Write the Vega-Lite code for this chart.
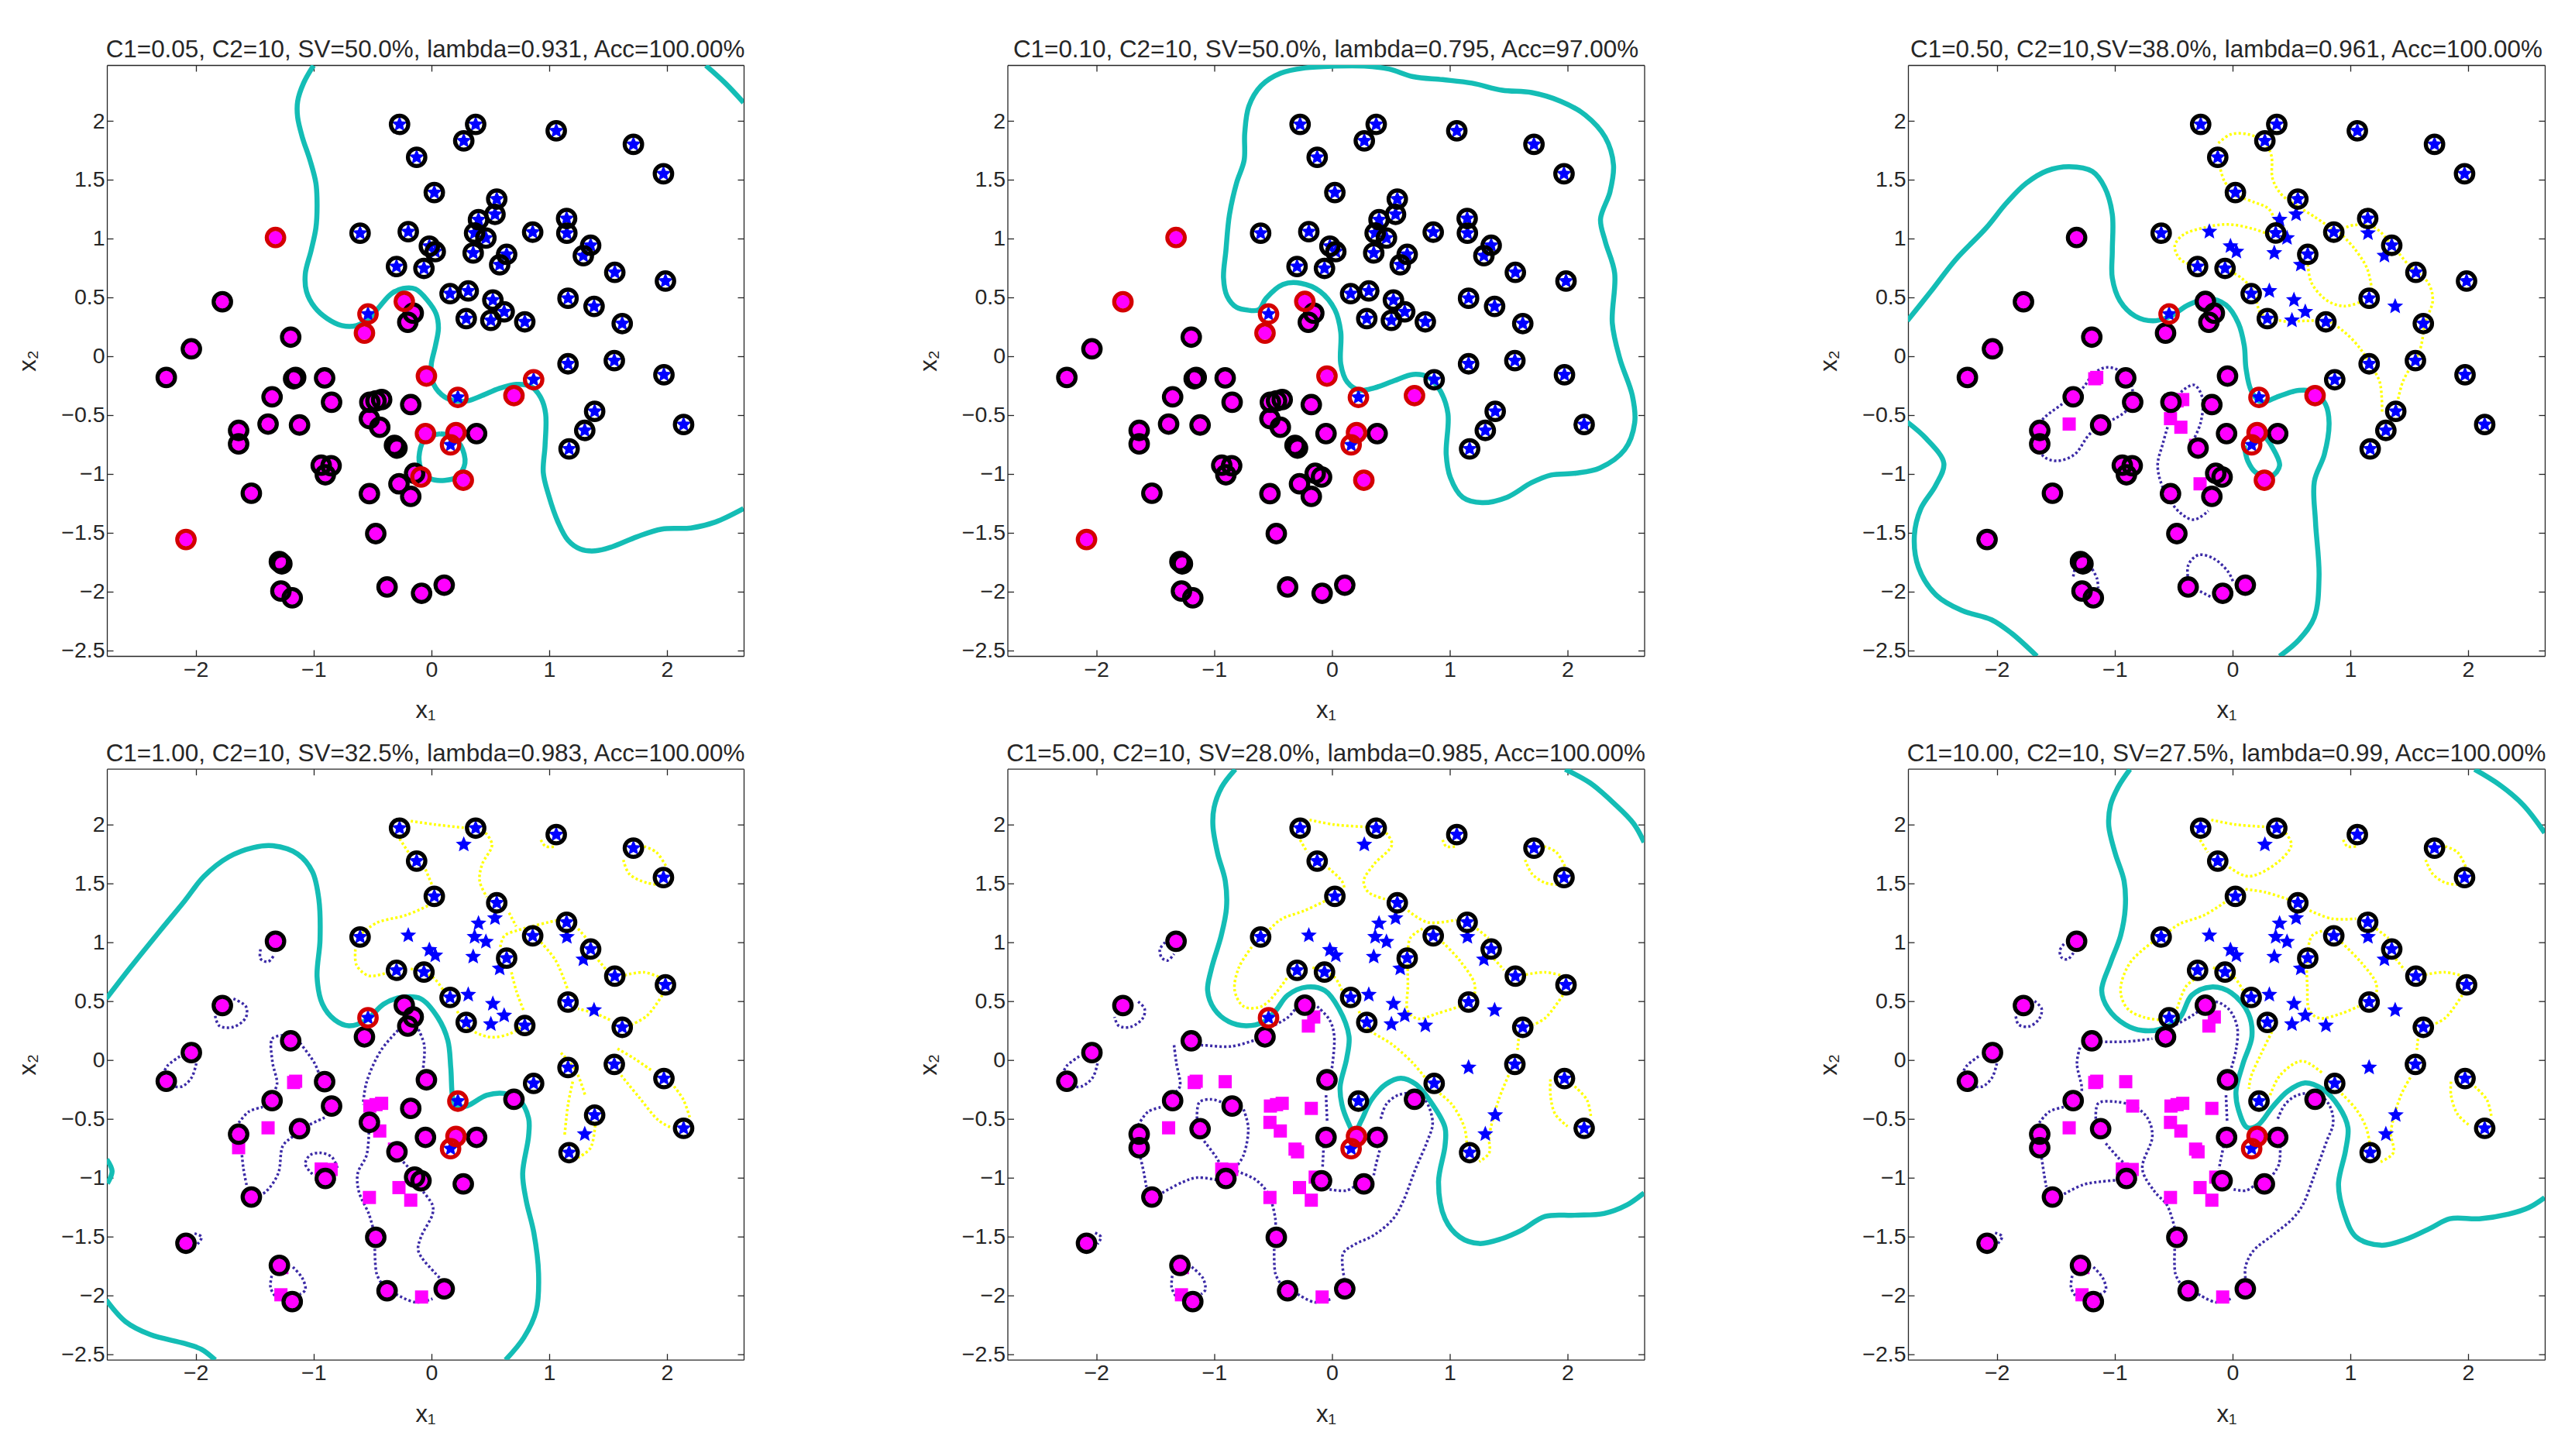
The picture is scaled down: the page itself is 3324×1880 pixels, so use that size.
{"$schema":"https://vega.github.io/schema/vega-lite/v6.json","background":"white","padding":{"left":20,"top":48,"right":0,"bottom":0},"columns":3,"spacing":{"row":145.7,"column":340.5},"bounds":"flush",
"config":{"view":{"stroke":null},"title":{"font":"Liberation Sans","fontSize":31.4,"fontWeight":"normal","color":"#262626","offset":3},"axis":{"grid":false,"domainColor":"#262626","domainWidth":1.3,"tickColor":"#262626","tickWidth":1.3,"tickSize":-8,"labelFont":"Liberation Sans","labelFontSize":28.5,"labelColor":"#262626","labelPadding":11,"titleFont":"Liberation Sans","titleFontSize":31,"titleFontWeight":"normal","titleColor":"#262626","labelFlush":false,"labelOverlap":false,"format":"~g"},"axisX":{"titlePadding":24},"axisY":{"titlePadding":26}},
"datasets":{
"pts":[
{"x":-0.27,"y":1.97,"c":"s","ring":"kkkkkk"},{"x":0.376,"y":1.97,"c":"s","ring":"kkkkkk"},{"x":0.275,"y":1.83,"c":"s","ring":"kkknnn"},{"x":1.06,"y":1.915,"c":"s","ring":"kkkkkk"},{"x":1.715,"y":1.8,"c":"s","ring":"kkkkkk"},{"x":1.97,"y":1.55,"c":"s","ring":"kkkkkk"},{"x":-0.125,"y":1.69,"c":"s","ring":"kkkkkk"},{"x":0.025,"y":1.39,"c":"s","ring":"kkkkkk"},{"x":0.555,"y":1.335,"c":"s","ring":"kkkkkk"},{"x":0.54,"y":1.205,"c":"s","ring":"kknnnn"},
{"x":0.4,"y":1.16,"c":"s","ring":"kknnnn"},{"x":1.148,"y":1.17,"c":"s","ring":"kkkkkk"},{"x":1.15,"y":1.045,"c":"s","ring":"kknnnn"},{"x":-0.605,"y":1.045,"c":"s","ring":"kkkkkk"},{"x":-0.196,"y":1.058,"c":"s","ring":"kknnnn"},{"x":0.367,"y":1.046,"c":"s","ring":"kkknnn"},{"x":0.463,"y":1.004,"c":"s","ring":"kknnnn"},{"x":0.86,"y":1.054,"c":"s","ring":"kkkkkk"},{"x":-0.017,"y":0.935,"c":"s","ring":"kknnnn"},{"x":0.033,"y":0.888,"c":"s","ring":"kknnnn"},
{"x":0.355,"y":0.877,"c":"s","ring":"kknnnn"},{"x":1.352,"y":0.942,"c":"s","ring":"kkkkkk"},{"x":1.29,"y":0.854,"c":"s","ring":"kknnnn"},{"x":0.639,"y":0.865,"c":"s","ring":"kkkkkk"},{"x":0.58,"y":0.777,"c":"s","ring":"kknnnn"},{"x":-0.296,"y":0.762,"c":"s","ring":"kkkkkk"},{"x":-0.063,"y":0.746,"c":"s","ring":"kkkkkk"},{"x":1.557,"y":0.712,"c":"s","ring":"kkkkkk"},{"x":1.987,"y":0.638,"c":"s","ring":"kkkkkk"},{"x":0.159,"y":0.531,"c":"s","ring":"kkkkkk"},
{"x":0.313,"y":0.554,"c":"s","ring":"kknnnn"},{"x":0.522,"y":0.477,"c":"s","ring":"kknnnn"},{"x":1.16,"y":0.492,"c":"s","ring":"kkkkkk"},{"x":1.381,"y":0.423,"c":"s","ring":"kknnnn"},{"x":0.618,"y":0.377,"c":"s","ring":"kknnnn"},{"x":0.505,"y":0.304,"c":"s","ring":"kknnnn"},{"x":0.296,"y":0.319,"c":"s","ring":"kkkkkk"},{"x":0.793,"y":0.292,"c":"s","ring":"kkkknn"},{"x":1.62,"y":0.277,"c":"s","ring":"kkkkkk"},{"x":-0.538,"y":0.358,"c":"s","ring":"rrrrrk"},
{"x":1.16,"y":-0.065,"c":"s","ring":"kkkknn"},{"x":1.553,"y":-0.038,"c":"s","ring":"kkkkkk"},{"x":1.974,"y":-0.158,"c":"s","ring":"kkkkkk"},{"x":0.225,"y":-0.35,"c":"s","ring":"rrrrkk"},{"x":0.868,"y":-0.2,"c":"s","ring":"rkkkkk"},{"x":1.386,"y":-0.469,"c":"s","ring":"kkkknn"},{"x":1.302,"y":-0.631,"c":"s","ring":"kkknnn"},{"x":2.141,"y":-0.581,"c":"s","ring":"kkkkkk"},{"x":1.169,"y":-0.788,"c":"s","ring":"kkkkkk"},{"x":0.163,"y":-0.754,"c":"s","ring":"rrrrrr"},
{"x":-1.323,"y":1.008,"c":"m","ring":"rrkkkk"},{"x":-1.774,"y":0.462,"c":"m","ring":"krkkkk"},{"x":-1.194,"y":0.162,"c":"m","ring":"kkkkkk"},{"x":-0.568,"y":0.196,"c":"m","ring":"rrkkkk"},{"x":-0.23,"y":0.465,"c":"m","ring":"rrkkkk"},{"x":-0.154,"y":0.365,"c":"m","ring":"kkkknn"},{"x":-0.2,"y":0.288,"c":"m","ring":"kkkknn"},{"x":-2.037,"y":0.062,"c":"m","ring":"kkkkkk"},{"x":-2.25,"y":-0.181,"c":"m","ring":"kkkkkk"},{"x":-1.152,"y":-0.181,"c":"m","ring":"kknnnn"},
{"x":-1.169,"y":-0.192,"c":"m","ring":"kknnnn"},{"x":-0.906,"y":-0.185,"c":"m","ring":"kkkknn"},{"x":-1.352,"y":-0.346,"c":"m","ring":"kkkkkk"},{"x":-0.847,"y":-0.392,"c":"m","ring":"kkkkkn"},{"x":-0.522,"y":-0.392,"c":"m","ring":"kkknnn"},{"x":-0.47,"y":-0.38,"c":"m","ring":"kknnnn"},{"x":-0.422,"y":-0.369,"c":"m","ring":"kknnnn"},{"x":-0.175,"y":-0.412,"c":"m","ring":"kkkknn"},{"x":-0.042,"y":-0.169,"c":"m","ring":"rrkkkk"},{"x":0.701,"y":-0.335,"c":"m","ring":"rrrkkk"},
{"x":-0.526,"y":-0.531,"c":"m","ring":"kknknn"},{"x":-0.438,"y":-0.604,"c":"m","ring":"kknnnn"},{"x":-1.636,"y":-0.631,"c":"m","ring":"kkkkkk"},{"x":-1.636,"y":-0.746,"c":"m","ring":"kkknkk"},{"x":-1.386,"y":-0.577,"c":"m","ring":"kknnnn"},{"x":-1.119,"y":-0.585,"c":"m","ring":"kkkkkk"},{"x":-0.05,"y":-0.658,"c":"m","ring":"rkkkkk"},{"x":0.209,"y":-0.65,"c":"m","ring":"rrrrrr"},{"x":0.384,"y":-0.658,"c":"m","ring":"kkkkkk"},{"x":-0.313,"y":-0.758,"c":"m","ring":"kknnnn"},
{"x":-0.292,"y":-0.781,"c":"m","ring":"kkkknn"},{"x":-0.935,"y":-0.927,"c":"m","ring":"kkknnn"},{"x":-0.851,"y":-0.931,"c":"m","ring":"kkknnn"},{"x":-0.9,"y":-1.008,"c":"m","ring":"kkkkkk"},{"x":-0.142,"y":-0.996,"c":"m","ring":"kkkknn"},{"x":-0.088,"y":-1.027,"c":"m","ring":"rkkkkk"},{"x":-0.275,"y":-1.085,"c":"m","ring":"kknnnn"},{"x":-0.175,"y":-1.192,"c":"m","ring":"kkknnn"},{"x":-0.526,"y":-1.169,"c":"m","ring":"kkknnn"},{"x":0.271,"y":-1.054,"c":"m","ring":"rrrkkk"},
{"x":-1.528,"y":-1.165,"c":"m","ring":"kkkkkk"},{"x":-0.472,"y":-1.508,"c":"m","ring":"kkkkkk"},{"x":-2.083,"y":-1.558,"c":"m","ring":"rrkkkk"},{"x":-1.29,"y":-1.746,"c":"m","ring":"kkkkkk"},{"x":-1.269,"y":-1.765,"c":"m","ring":"kkknnn"},{"x":-1.277,"y":-1.996,"c":"m","ring":"kkknnn"},{"x":-1.181,"y":-2.054,"c":"m","ring":"kkkkkk"},{"x":-0.376,"y":-1.962,"c":"m","ring":"kkkkkk"},{"x":-0.083,"y":-2.015,"c":"m","ring":"kkknnn"},{"x":0.109,"y":-1.946,"c":"m","ring":"kkkkkk"}
],
"c1":[
{"k":"t","s":1,"x":-1.0,"y":2.47},{"k":"t","s":1,"x":-1.085,"y":2.32},{"k":"t","s":1,"x":-1.135,"y":2.165},{"k":"t","s":1,"x":-1.135,"y":2.03},{"k":"t","s":1,"x":-1.095,"y":1.86},{"k":"t","s":1,"x":-1.03,"y":1.665},{"k":"t","s":1,"x":-0.98,"y":1.47},{"k":"t","s":1,"x":-0.97,"y":1.28},{"k":"t","s":1,"x":-0.98,"y":1.09},{"k":"t","s":1,"x":-1.02,"y":0.9},{"k":"t","s":1,"x":-1.07,"y":0.7},{"k":"t","s":1,"x":-1.06,"y":0.55},{"k":"t","s":1,"x":-0.99,"y":0.415},{"k":"t","s":1,"x":-0.885,"y":0.32},{"k":"t","s":1,"x":-0.76,"y":0.26},{"k":"t","s":1,"x":-0.635,"y":0.26},{"k":"t","s":1,"x":-0.53,"y":0.32},{"k":"t","s":1,"x":-0.445,"y":0.415},{"k":"t","s":1,"x":-0.34,"y":0.53},{"k":"t","s":1,"x":-0.24,"y":0.575},{"k":"t","s":1,"x":-0.135,"y":0.57},{"k":"t","s":1,"x":-0.03,"y":0.47},{"k":"t","s":1,"x":0.04,"y":0.36},{"k":"t","s":1,"x":0.06,"y":0.24},{"k":"t","s":1,"x":0.035,"y":0.09},{"k":"t","s":1,"x":0,"y":-0.065},{"k":"t","s":1,"x":0,"y":-0.18},{"k":"t","s":1,"x":0.055,"y":-0.295},{"k":"t","s":1,"x":0.16,"y":-0.37},{"k":"t","s":1,"x":0.305,"y":-0.38},{"k":"t","s":1,"x":0.43,"y":-0.335},{"k":"t","s":1,"x":0.575,"y":-0.275},{"k":"t","s":1,"x":0.72,"y":-0.24},{"k":"t","s":1,"x":0.85,"y":-0.26},{"k":"t","s":1,"x":0.93,"y":-0.355},{"k":"t","s":1,"x":0.97,"y":-0.49},{"k":"t","s":1,"x":0.965,"y":-0.76},{"k":"t","s":1,"x":0.95,"y":-0.99},{"k":"t","s":1,"x":0.995,"y":-1.18},{"k":"t","s":1,"x":1.075,"y":-1.41},{"k":"t","s":1,"x":1.16,"y":-1.565},{"k":"t","s":1,"x":1.265,"y":-1.64},{"k":"t","s":1,"x":1.39,"y":-1.655},{"k":"t","s":1,"x":1.535,"y":-1.62},{"k":"t","s":1,"x":1.745,"y":-1.535},{"k":"t","s":1,"x":1.955,"y":-1.47},{"k":"t","s":1,"x":2.205,"y":-1.46},{"k":"t","s":1,"x":2.41,"y":-1.41},{"k":"t","s":1,"x":2.65,"y":-1.295},
{"k":"t","s":2,"x":2.33,"y":2.47},{"k":"t","s":2,"x":2.495,"y":2.32},{"k":"t","s":2,"x":2.65,"y":2.155},
{"k":"t","s":3,"x":0.075,"y":-0.66},{"k":"t","s":3,"x":-0.05,"y":-0.7},{"k":"t","s":3,"x":-0.1,"y":-0.815},{"k":"t","s":3,"x":-0.09,"y":-0.95},{"k":"t","s":3,"x":-0.01,"y":-1.04},{"k":"t","s":3,"x":0.115,"y":-1.055},{"k":"t","s":3,"x":0.22,"y":-1.025},{"k":"t","s":3,"x":0.285,"y":-0.91},{"k":"t","s":3,"x":0.25,"y":-0.76},{"k":"t","s":3,"x":0.16,"y":-0.675},{"k":"t","s":3,"x":0.075,"y":-0.66}
],
"c2":[
{"k":"t","s":1,"x":-0.705,"y":0.39},{"k":"t","s":1,"x":-0.81,"y":0.415},{"k":"t","s":1,"x":-0.89,"y":0.51},{"k":"t","s":1,"x":-0.92,"y":0.665},{"k":"t","s":1,"x":-0.9,"y":0.895},{"k":"t","s":1,"x":-0.87,"y":1.2},{"k":"t","s":1,"x":-0.81,"y":1.47},{"k":"t","s":1,"x":-0.745,"y":1.665},{"k":"t","s":1,"x":-0.74,"y":1.895},{"k":"t","s":1,"x":-0.705,"y":2.125},{"k":"t","s":1,"x":-0.6,"y":2.3},{"k":"t","s":1,"x":-0.435,"y":2.405},{"k":"t","s":1,"x":-0.225,"y":2.45},{"k":"t","s":1,"x":0.025,"y":2.465},{"k":"t","s":1,"x":0.275,"y":2.465},{"k":"t","s":1,"x":0.485,"y":2.44},{"k":"t","s":1,"x":0.69,"y":2.375},{"k":"t","s":1,"x":0.94,"y":2.35},{"k":"t","s":1,"x":1.19,"y":2.32},{"k":"t","s":1,"x":1.445,"y":2.26},{"k":"t","s":1,"x":1.695,"y":2.24},{"k":"t","s":1,"x":1.945,"y":2.165},{"k":"t","s":1,"x":2.15,"y":2.05},{"k":"t","s":1,"x":2.32,"y":1.86},{"k":"t","s":1,"x":2.39,"y":1.625},{"k":"t","s":1,"x":2.36,"y":1.395},{"k":"t","s":1,"x":2.28,"y":1.165},{"k":"t","s":1,"x":2.32,"y":0.975},{"k":"t","s":1,"x":2.4,"y":0.705},{"k":"t","s":1,"x":2.38,"y":0.28},{"k":"t","s":1,"x":2.445,"y":-0.025},{"k":"t","s":1,"x":2.55,"y":-0.335},{"k":"t","s":1,"x":2.57,"y":-0.565},{"k":"t","s":1,"x":2.485,"y":-0.795},{"k":"t","s":1,"x":2.275,"y":-0.95},{"k":"t","s":1,"x":2.07,"y":-0.995},{"k":"t","s":1,"x":1.86,"y":-1.01},{"k":"t","s":1,"x":1.695,"y":-1.075},{"k":"t","s":1,"x":1.485,"y":-1.2},{"k":"t","s":1,"x":1.275,"y":-1.245},{"k":"t","s":1,"x":1.11,"y":-1.2},{"k":"t","s":1,"x":1.005,"y":-1.03},{"k":"t","s":1,"x":0.97,"y":-0.835},{"k":"t","s":1,"x":0.985,"y":-0.49},{"k":"t","s":1,"x":0.92,"y":-0.295},{"k":"t","s":1,"x":0.82,"y":-0.18},{"k":"t","s":1,"x":0.69,"y":-0.155},{"k":"t","s":1,"x":0.525,"y":-0.21},{"k":"t","s":1,"x":0.36,"y":-0.27},{"k":"t","s":1,"x":0.235,"y":-0.29},{"k":"t","s":1,"x":0.13,"y":-0.22},{"k":"t","s":1,"x":0.075,"y":-0.065},{"k":"t","s":1,"x":0.075,"y":0.205},{"k":"t","s":1,"x":0.025,"y":0.395},{"k":"t","s":1,"x":-0.1,"y":0.55},{"k":"t","s":1,"x":-0.265,"y":0.62},{"k":"t","s":1,"x":-0.415,"y":0.61},{"k":"t","s":1,"x":-0.56,"y":0.49},{"k":"t","s":1,"x":-0.62,"y":0.395},{"k":"t","s":1,"x":-0.705,"y":0.39}
],
"c3":[
{"k":"t","s":1,"x":-2.76,"y":0.3},{"k":"t","s":1,"x":-2.56,"y":0.55},{"k":"t","s":1,"x":-2.35,"y":0.82},{"k":"t","s":1,"x":-2.09,"y":1.09},{"k":"t","s":1,"x":-1.92,"y":1.3},{"k":"t","s":1,"x":-1.75,"y":1.47},{"k":"t","s":1,"x":-1.575,"y":1.575},{"k":"t","s":1,"x":-1.385,"y":1.61},{"k":"t","s":1,"x":-1.19,"y":1.57},{"k":"t","s":1,"x":-1.085,"y":1.435},{"k":"t","s":1,"x":-1.02,"y":1.205},{"k":"t","s":1,"x":-1.02,"y":0.895},{"k":"t","s":1,"x":-1.02,"y":0.665},{"k":"t","s":1,"x":-0.955,"y":0.47},{"k":"t","s":1,"x":-0.825,"y":0.34},{"k":"t","s":1,"x":-0.675,"y":0.3},{"k":"t","s":1,"x":-0.525,"y":0.34},{"k":"t","s":1,"x":-0.375,"y":0.435},{"k":"t","s":1,"x":-0.205,"y":0.49},{"k":"t","s":1,"x":-0.055,"y":0.435},{"k":"t","s":1,"x":0.05,"y":0.28},{"k":"t","s":1,"x":0.1,"y":0.09},{"k":"t","s":1,"x":0.115,"y":-0.105},{"k":"t","s":1,"x":0.16,"y":-0.295},{"k":"t","s":1,"x":0.245,"y":-0.39},{"k":"t","s":1,"x":0.395,"y":-0.34},{"k":"t","s":1,"x":0.565,"y":-0.29},{"k":"t","s":1,"x":0.695,"y":-0.305},{"k":"t","s":1,"x":0.79,"y":-0.41},{"k":"t","s":1,"x":0.82,"y":-0.565},{"k":"t","s":1,"x":0.78,"y":-0.835},{"k":"t","s":1,"x":0.695,"y":-1.065},{"k":"t","s":1,"x":0.705,"y":-1.41},{"k":"t","s":1,"x":0.735,"y":-1.87},{"k":"t","s":1,"x":0.695,"y":-2.22},{"k":"t","s":1,"x":0.565,"y":-2.41},{"k":"t","s":1,"x":0.4,"y":-2.55},
{"k":"t","s":2,"x":-2.76,"y":-0.56},{"k":"t","s":2,"x":-2.6,"y":-0.7},{"k":"t","s":2,"x":-2.45,"y":-0.91},{"k":"t","s":2,"x":-2.52,"y":-1.1},{"k":"t","s":2,"x":-2.645,"y":-1.295},{"k":"t","s":2,"x":-2.7,"y":-1.525},{"k":"t","s":2,"x":-2.665,"y":-1.795},{"k":"t","s":2,"x":-2.515,"y":-2.03},{"k":"t","s":2,"x":-2.3,"y":-2.16},{"k":"t","s":2,"x":-2.045,"y":-2.24},{"k":"t","s":2,"x":-1.875,"y":-2.355},{"k":"t","s":2,"x":-1.66,"y":-2.55},
{"k":"t","s":3,"x":0.1,"y":-0.76},{"k":"t","s":3,"x":0.13,"y":-0.89},{"k":"t","s":3,"x":0.2,"y":-0.99},{"k":"t","s":3,"x":0.33,"y":-1.02},{"k":"t","s":3,"x":0.4,"y":-0.93},{"k":"t","s":3,"x":0.33,"y":-0.76},{"k":"t","s":3,"x":0.255,"y":-0.66},
{"k":"y","s":1,"x":-0.12,"y":1.81},{"k":"y","s":1,"x":-0.015,"y":1.885},{"k":"y","s":1,"x":0.135,"y":1.885},{"k":"y","s":1,"x":0.265,"y":1.825},{"k":"y","s":1,"x":0.33,"y":1.705},{"k":"y","s":1,"x":0.34,"y":1.51},{"k":"y","s":1,"x":0.415,"y":1.375},{"k":"y","s":1,"x":0.545,"y":1.28},{"k":"y","s":1,"x":0.695,"y":1.185},{"k":"y","s":1,"x":0.865,"y":1.07},
{"k":"y","s":2,"x":-0.11,"y":1.625},{"k":"y","s":2,"x":-0.07,"y":1.49},{"k":"y","s":2,"x":0.01,"y":1.39},
{"k":"y","s":3,"x":0.02,"y":1.365},{"k":"y","s":3,"x":0.18,"y":1.31},{"k":"y","s":3,"x":0.31,"y":1.25},{"k":"y","s":3,"x":0.37,"y":1.125},
{"k":"y","s":4,"x":0.35,"y":1.02},{"k":"y","s":4,"x":0.18,"y":1.08},{"k":"y","s":4,"x":-0.035,"y":1.12},{"k":"y","s":4,"x":-0.25,"y":1.09},{"k":"y","s":4,"x":-0.42,"y":1.03},{"k":"y","s":4,"x":-0.49,"y":0.935},{"k":"y","s":4,"x":-0.44,"y":0.82},{"k":"y","s":4,"x":-0.3,"y":0.76},
{"k":"y","s":5,"x":-0.055,"y":0.74},{"k":"y","s":5,"x":0.075,"y":0.665},{"k":"y","s":5,"x":0.18,"y":0.55},{"k":"y","s":5,"x":0.245,"y":0.36},{"k":"y","s":5,"x":0.415,"y":0.3},{"k":"y","s":5,"x":0.63,"y":0.3},{"k":"y","s":5,"x":0.8,"y":0.3},{"k":"y","s":5,"x":0.95,"y":0.205},{"k":"y","s":5,"x":1.08,"y":0.07},{"k":"y","s":5,"x":1.165,"y":-0.065},{"k":"y","s":5,"x":1.25,"y":-0.22},{"k":"y","s":5,"x":1.27,"y":-0.49},
{"k":"y","s":6,"x":0.64,"y":0.78},{"k":"y","s":6,"x":0.67,"y":0.625},{"k":"y","s":6,"x":0.8,"y":0.475},{"k":"y","s":6,"x":0.95,"y":0.425},{"k":"y","s":6,"x":1.1,"y":0.465},
{"k":"y","s":7,"x":0.91,"y":1.05},{"k":"y","s":7,"x":1.035,"y":0.915},{"k":"y","s":7,"x":1.145,"y":0.74},{"k":"y","s":7,"x":1.185,"y":0.55},
{"k":"y","s":8,"x":0.93,"y":1.08},{"k":"y","s":8,"x":1.035,"y":1.115},{"k":"y","s":8,"x":1.21,"y":1.09},{"k":"y","s":8,"x":1.36,"y":0.935},{"k":"y","s":8,"x":1.51,"y":0.76},{"k":"y","s":8,"x":1.66,"y":0.625},{"k":"y","s":8,"x":1.7,"y":0.475},{"k":"y","s":8,"x":1.635,"y":0.28},{"k":"y","s":8,"x":1.59,"y":0.05},{"k":"y","s":8,"x":1.445,"y":-0.22},{"k":"y","s":8,"x":1.39,"y":-0.45},
{"k":"b","s":1,"x":-1.66,"y":-0.605},{"k":"b","s":1,"x":-1.6,"y":-0.525},{"k":"b","s":1,"x":-1.45,"y":-0.41},{"k":"b","s":1,"x":-1.275,"y":-0.275},{"k":"b","s":1,"x":-1.17,"y":-0.14},{"k":"b","s":1,"x":-1.06,"y":-0.095},{"k":"b","s":1,"x":-0.935,"y":-0.14},{"k":"b","s":1,"x":-0.85,"y":-0.275},{"k":"b","s":1,"x":-0.89,"y":-0.45},{"k":"b","s":1,"x":-1.06,"y":-0.565},{"k":"b","s":1,"x":-1.21,"y":-0.66},{"k":"b","s":1,"x":-1.34,"y":-0.835},{"k":"b","s":1,"x":-1.49,"y":-0.89},{"k":"b","s":1,"x":-1.6,"y":-0.855},{"k":"b","s":1,"x":-1.68,"y":-0.74},
{"k":"b","s":2,"x":-0.485,"y":-0.37},{"k":"b","s":2,"x":-0.42,"y":-0.29},{"k":"b","s":2,"x":-0.325,"y":-0.245},{"k":"b","s":2,"x":-0.255,"y":-0.355},{"k":"b","s":2,"x":-0.27,"y":-0.565},{"k":"b","s":2,"x":-0.335,"y":-0.72},
{"k":"b","s":3,"x":-0.54,"y":-0.565},{"k":"b","s":3,"x":-0.59,"y":-0.74},{"k":"b","s":3,"x":-0.635,"y":-0.93},{"k":"b","s":3,"x":-0.58,"y":-1.14},{"k":"b","s":3,"x":-0.44,"y":-1.335},{"k":"b","s":3,"x":-0.325,"y":-1.39},{"k":"b","s":3,"x":-0.205,"y":-1.315},
{"k":"b","s":4,"x":-0.375,"y":-1.91},{"k":"b","s":4,"x":-0.375,"y":-1.775},{"k":"b","s":4,"x":-0.29,"y":-1.69},{"k":"b","s":4,"x":-0.16,"y":-1.72},{"k":"b","s":4,"x":-0.035,"y":-1.835},{"k":"b","s":4,"x":0.01,"y":-1.93},
{"k":"b","s":5,"x":-0.31,"y":-1.98},{"k":"b","s":5,"x":-0.185,"y":-2.045},
{"k":"b","s":6,"x":-1.21,"y":-1.775},{"k":"b","s":6,"x":-1.15,"y":-1.89},{"k":"b","s":6,"x":-1.14,"y":-1.97},
{"k":"b","s":7,"x":-1.34,"y":-1.815},{"k":"b","s":7,"x":-1.355,"y":-1.89}
],
"c4":[
{"k":"t","s":1,"x":-2.76,"y":0.52},{"k":"t","s":1,"x":-2.555,"y":0.785},{"k":"t","s":1,"x":-2.305,"y":1.095},{"k":"t","s":1,"x":-2.095,"y":1.35},{"k":"t","s":1,"x":-1.93,"y":1.56},{"k":"t","s":1,"x":-1.72,"y":1.725},{"k":"t","s":1,"x":-1.51,"y":1.805},{"k":"t","s":1,"x":-1.345,"y":1.82},{"k":"t","s":1,"x":-1.135,"y":1.75},{"k":"t","s":1,"x":-1.01,"y":1.6},{"k":"t","s":1,"x":-0.955,"y":1.365},{"k":"t","s":1,"x":-0.945,"y":1.02},{"k":"t","s":1,"x":-0.97,"y":0.705},{"k":"t","s":1,"x":-0.925,"y":0.475},{"k":"t","s":1,"x":-0.82,"y":0.34},{"k":"t","s":1,"x":-0.7,"y":0.29},{"k":"t","s":1,"x":-0.55,"y":0.34},{"k":"t","s":1,"x":-0.405,"y":0.475},{"k":"t","s":1,"x":-0.26,"y":0.53},{"k":"t","s":1,"x":-0.09,"y":0.52},{"k":"t","s":1,"x":0.055,"y":0.36},{"k":"t","s":1,"x":0.14,"y":0.165},{"k":"t","s":1,"x":0.165,"y":-0.07},{"k":"t","s":1,"x":0.185,"y":-0.34},{"k":"t","s":1,"x":0.22,"y":-0.4},{"k":"t","s":1,"x":0.305,"y":-0.39},{"k":"t","s":1,"x":0.47,"y":-0.3},{"k":"t","s":1,"x":0.62,"y":-0.285},{"k":"t","s":1,"x":0.745,"y":-0.34},{"k":"t","s":1,"x":0.825,"y":-0.495},{"k":"t","s":1,"x":0.825,"y":-0.65},{"k":"t","s":1,"x":0.775,"y":-0.965},{"k":"t","s":1,"x":0.805,"y":-1.195},{"k":"t","s":1,"x":0.87,"y":-1.47},{"k":"t","s":1,"x":0.91,"y":-1.815},{"k":"t","s":1,"x":0.89,"y":-2.13},{"k":"t","s":1,"x":0.785,"y":-2.36},{"k":"t","s":1,"x":0.63,"y":-2.55},
{"k":"t","s":2,"x":-2.755,"y":-0.845},{"k":"t","s":2,"x":-2.71,"y":-0.945},{"k":"t","s":2,"x":-2.75,"y":-1.05},
{"k":"t","s":3,"x":-2.76,"y":-2.04},{"k":"t","s":3,"x":-2.595,"y":-2.225},{"k":"t","s":3,"x":-2.385,"y":-2.335},{"k":"t","s":3,"x":-2.095,"y":-2.41},{"k":"t","s":3,"x":-1.95,"y":-2.46},{"k":"t","s":3,"x":-1.835,"y":-2.55},
{"k":"y","s":1,"x":-0.175,"y":2.03},{"k":"y","s":1,"x":0.035,"y":2.0},{"k":"y","s":1,"x":0.305,"y":1.97},
{"k":"y","s":2,"x":-0.27,"y":1.88},{"k":"y","s":2,"x":-0.195,"y":1.765},
{"k":"y","s":3,"x":0.46,"y":1.93},{"k":"y","s":3,"x":0.515,"y":1.83},{"k":"y","s":3,"x":0.43,"y":1.66},{"k":"y","s":3,"x":0.41,"y":1.52},{"k":"y","s":3,"x":0.47,"y":1.385},
{"k":"y","s":4,"x":-0.05,"y":1.62},{"k":"y","s":4,"x":0.015,"y":1.465},
{"k":"y","s":5,"x":-0.03,"y":1.31},{"k":"y","s":5,"x":-0.215,"y":1.23},{"k":"y","s":5,"x":-0.465,"y":1.165},{"k":"y","s":5,"x":-0.59,"y":1.075},
{"k":"y","s":6,"x":-0.645,"y":0.94},{"k":"y","s":6,"x":-0.635,"y":0.805},{"k":"y","s":6,"x":-0.53,"y":0.715},{"k":"y","s":6,"x":-0.365,"y":0.745},
{"k":"y","s":7,"x":-0.175,"y":0.775},{"k":"y","s":7,"x":0.01,"y":0.705},{"k":"y","s":7,"x":0.115,"y":0.57},
{"k":"y","s":8,"x":0.66,"y":1.25},{"k":"y","s":8,"x":0.72,"y":1.135},
{"k":"y","s":9,"x":0.585,"y":0.96},{"k":"y","s":9,"x":0.62,"y":1.055},{"k":"y","s":9,"x":0.745,"y":1.105},{"k":"y","s":9,"x":0.85,"y":1.135},{"k":"y","s":9,"x":0.995,"y":1.17},{"k":"y","s":9,"x":1.08,"y":1.19},
{"k":"y","s":10,"x":0.68,"y":0.745},{"k":"y","s":10,"x":0.72,"y":0.59},{"k":"y","s":10,"x":0.785,"y":0.415},
{"k":"y","s":11,"x":0.93,"y":1.0},{"k":"y","s":11,"x":1.055,"y":0.845},{"k":"y","s":11,"x":1.16,"y":0.59},
{"k":"y","s":12,"x":1.245,"y":1.115},{"k":"y","s":12,"x":1.31,"y":1.04},
{"k":"y","s":13,"x":1.39,"y":0.88},{"k":"y","s":13,"x":1.485,"y":0.765},
{"k":"y","s":14,"x":1.64,"y":0.72},{"k":"y","s":14,"x":1.805,"y":0.745},{"k":"y","s":14,"x":1.93,"y":0.705},
{"k":"y","s":15,"x":1.96,"y":0.55},{"k":"y","s":15,"x":1.83,"y":0.375},{"k":"y","s":15,"x":1.7,"y":0.3},
{"k":"y","s":16,"x":1.515,"y":0.34},{"k":"y","s":16,"x":1.39,"y":0.395},{"k":"y","s":16,"x":1.245,"y":0.435},
{"k":"y","s":17,"x":0.22,"y":0.415},{"k":"y","s":17,"x":0.305,"y":0.28},{"k":"y","s":17,"x":0.49,"y":0.195},{"k":"y","s":17,"x":0.66,"y":0.22},{"k":"y","s":17,"x":0.765,"y":0.28},
{"k":"y","s":18,"x":1.58,"y":0.095},{"k":"y","s":18,"x":1.725,"y":0.01},{"k":"y","s":18,"x":1.87,"y":-0.09},
{"k":"y","s":19,"x":1.61,"y":-0.13},{"k":"y","s":19,"x":1.765,"y":-0.32},{"k":"y","s":19,"x":1.93,"y":-0.515},{"k":"y","s":19,"x":2.035,"y":-0.575},
{"k":"y","s":20,"x":2.06,"y":-0.225},{"k":"y","s":20,"x":2.14,"y":-0.34},{"k":"y","s":20,"x":2.195,"y":-0.495},
{"k":"y","s":21,"x":1.1,"y":0.06},{"k":"y","s":21,"x":1.225,"y":-0.09},{"k":"y","s":21,"x":1.305,"y":-0.3},
{"k":"y","s":22,"x":1.2,"y":-0.185},{"k":"y","s":22,"x":1.16,"y":-0.38},{"k":"y","s":22,"x":1.13,"y":-0.65},
{"k":"y","s":23,"x":1.39,"y":-0.555},{"k":"y","s":23,"x":1.35,"y":-0.75},{"k":"y","s":23,"x":1.245,"y":-0.83},
{"k":"y","s":24,"x":0.93,"y":1.87},{"k":"y","s":24,"x":0.97,"y":1.815},{"k":"y","s":24,"x":1.055,"y":1.815},
{"k":"y","s":25,"x":1.805,"y":1.815},{"k":"y","s":25,"x":1.91,"y":1.765},{"k":"y","s":25,"x":1.995,"y":1.64},
{"k":"y","s":26,"x":1.63,"y":1.7},{"k":"y","s":26,"x":1.68,"y":1.58},{"k":"y","s":26,"x":1.83,"y":1.505},{"k":"y","s":26,"x":1.93,"y":1.49},
{"k":"b","s":1,"x":-1.45,"y":0.94},{"k":"b","s":1,"x":-1.45,"y":0.86},{"k":"b","s":1,"x":-1.385,"y":0.835},{"k":"b","s":1,"x":-1.33,"y":0.9},
{"k":"b","s":2,"x":-1.68,"y":0.52},{"k":"b","s":2,"x":-1.575,"y":0.455},{"k":"b","s":2,"x":-1.575,"y":0.36},{"k":"b","s":2,"x":-1.68,"y":0.28},{"k":"b","s":2,"x":-1.8,"y":0.29},{"k":"b","s":2,"x":-1.835,"y":0.375},
{"k":"b","s":3,"x":-2.135,"y":0.03},{"k":"b","s":3,"x":-2.24,"y":-0.05},{"k":"b","s":3,"x":-2.28,"y":-0.13},
{"k":"b","s":4,"x":-1.995,"y":-0.03},{"k":"b","s":4,"x":-2.035,"y":-0.15},{"k":"b","s":4,"x":-2.115,"y":-0.225},{"k":"b","s":4,"x":-2.2,"y":-0.225},
{"k":"b","s":5,"x":-1.26,"y":0.21},{"k":"b","s":5,"x":-1.35,"y":0.18},{"k":"b","s":5,"x":-1.35,"y":-0.01},{"k":"b","s":5,"x":-1.31,"y":-0.205},{"k":"b","s":5,"x":-1.345,"y":-0.285},
{"k":"b","s":6,"x":-1.115,"y":0.145},{"k":"b","s":6,"x":-0.99,"y":-0.03},{"k":"b","s":6,"x":-0.95,"y":-0.13},
{"k":"b","s":7,"x":-1.635,"y":-0.535},{"k":"b","s":7,"x":-1.55,"y":-0.44},{"k":"b","s":7,"x":-1.43,"y":-0.4},
{"k":"b","s":8,"x":-0.905,"y":-0.49},{"k":"b","s":8,"x":-1.05,"y":-0.56},{"k":"b","s":8,"x":-1.175,"y":-0.65},{"k":"b","s":8,"x":-1.26,"y":-0.73},{"k":"b","s":8,"x":-1.3,"y":-0.965},{"k":"b","s":8,"x":-1.405,"y":-1.12},{"k":"b","s":8,"x":-1.47,"y":-1.155},
{"k":"b","s":9,"x":-1.615,"y":-0.73},{"k":"b","s":9,"x":-1.595,"y":-0.925},{"k":"b","s":9,"x":-1.565,"y":-1.08},
{"k":"b","s":10,"x":-1.01,"y":-0.97},{"k":"b","s":10,"x":-1.07,"y":-0.885},{"k":"b","s":10,"x":-1.03,"y":-0.81},{"k":"b","s":10,"x":-0.945,"y":-0.79},{"k":"b","s":10,"x":-0.845,"y":-0.825},{"k":"b","s":10,"x":-0.795,"y":-0.925},
{"k":"b","s":11,"x":-0.255,"y":0.28},{"k":"b","s":11,"x":-0.425,"y":0.085},{"k":"b","s":11,"x":-0.55,"y":-0.19},{"k":"b","s":11,"x":-0.58,"y":-0.38},
{"k":"b","s":12,"x":-0.11,"y":0.26},{"k":"b","s":12,"x":-0.06,"y":0.125},{"k":"b","s":12,"x":-0.07,"y":-0.07},
{"k":"b","s":13,"x":-0.53,"y":-0.615},{"k":"b","s":13,"x":-0.55,"y":-0.81},{"k":"b","s":13,"x":-0.625,"y":-0.965},{"k":"b","s":13,"x":-0.615,"y":-1.12},{"k":"b","s":13,"x":-0.53,"y":-1.31},{"k":"b","s":13,"x":-0.49,"y":-1.45},
{"k":"b","s":14,"x":-0.24,"y":-0.865},{"k":"b","s":14,"x":-0.155,"y":-0.955},
{"k":"b","s":15,"x":-0.07,"y":-1.12},{"k":"b","s":15,"x":0.01,"y":-1.235},{"k":"b","s":15,"x":0.01,"y":-1.31},{"k":"b","s":15,"x":-0.09,"y":-1.51},{"k":"b","s":15,"x":-0.11,"y":-1.625},{"k":"b","s":15,"x":0.035,"y":-1.815},{"k":"b","s":15,"x":0.095,"y":-1.875},
{"k":"b","s":16,"x":-0.48,"y":-1.605},{"k":"b","s":16,"x":-0.465,"y":-1.815},{"k":"b","s":16,"x":-0.425,"y":-1.895},
{"k":"b","s":17,"x":-0.3,"y":-1.99},{"k":"b","s":17,"x":-0.135,"y":-2.06},{"k":"b","s":17,"x":0.01,"y":-2.03},
{"k":"b","s":18,"x":-1.175,"y":-1.76},{"k":"b","s":18,"x":-1.095,"y":-1.855},{"k":"b","s":18,"x":-1.07,"y":-1.955},{"k":"b","s":18,"x":-1.115,"y":-1.99},
{"k":"b","s":19,"x":-1.355,"y":-1.835},{"k":"b","s":19,"x":-1.365,"y":-1.935},{"k":"b","s":19,"x":-1.325,"y":-2.01},
{"k":"b","s":20,"x":-2.01,"y":-1.475},{"k":"b","s":20,"x":-1.95,"y":-1.505},{"k":"b","s":20,"x":-1.985,"y":-1.565}
],
"c5":[
{"k":"t","s":1,"x":-0.82,"y":2.47},{"k":"t","s":1,"x":-0.935,"y":2.32},{"k":"t","s":1,"x":-1.0,"y":2.145},{"k":"t","s":1,"x":-1.01,"y":1.99},{"k":"t","s":1,"x":-0.97,"y":1.755},{"k":"t","s":1,"x":-0.905,"y":1.52},{"k":"t","s":1,"x":-0.895,"y":1.29},{"k":"t","s":1,"x":-0.94,"y":1.055},{"k":"t","s":1,"x":-1.02,"y":0.785},{"k":"t","s":1,"x":-1.055,"y":0.59},{"k":"t","s":1,"x":-1.0,"y":0.435},{"k":"t","s":1,"x":-0.875,"y":0.325},{"k":"t","s":1,"x":-0.73,"y":0.29},{"k":"t","s":1,"x":-0.585,"y":0.32},{"k":"t","s":1,"x":-0.48,"y":0.415},{"k":"t","s":1,"x":-0.375,"y":0.55},{"k":"t","s":1,"x":-0.21,"y":0.62},{"k":"t","s":1,"x":-0.06,"y":0.59},{"k":"t","s":1,"x":0.06,"y":0.435},{"k":"t","s":1,"x":0.145,"y":0.2},{"k":"t","s":1,"x":0.125,"y":0.01},{"k":"t","s":1,"x":0.07,"y":-0.225},{"k":"t","s":1,"x":0.085,"y":-0.38},{"k":"t","s":1,"x":0.14,"y":-0.535},{"k":"t","s":1,"x":0.19,"y":-0.62},{"k":"t","s":1,"x":0.25,"y":-0.515},{"k":"t","s":1,"x":0.335,"y":-0.34},{"k":"t","s":1,"x":0.46,"y":-0.205},{"k":"t","s":1,"x":0.585,"y":-0.155},{"k":"t","s":1,"x":0.71,"y":-0.205},{"k":"t","s":1,"x":0.855,"y":-0.38},{"k":"t","s":1,"x":0.96,"y":-0.575},{"k":"t","s":1,"x":0.96,"y":-0.73},{"k":"t","s":1,"x":0.905,"y":-1.04},{"k":"t","s":1,"x":0.96,"y":-1.35},{"k":"t","s":1,"x":1.085,"y":-1.505},{"k":"t","s":1,"x":1.25,"y":-1.56},{"k":"t","s":1,"x":1.44,"y":-1.52},{"k":"t","s":1,"x":1.605,"y":-1.45},{"k":"t","s":1,"x":1.81,"y":-1.33},{"k":"t","s":1,"x":2.06,"y":-1.32},{"k":"t","s":1,"x":2.31,"y":-1.305},{"k":"t","s":1,"x":2.5,"y":-1.235},{"k":"t","s":1,"x":2.65,"y":-1.13},
{"k":"t","s":2,"x":1.98,"y":2.47},{"k":"t","s":2,"x":2.19,"y":2.355},{"k":"t","s":2,"x":2.395,"y":2.18},{"k":"t","s":2,"x":2.56,"y":2.01},{"k":"t","s":2,"x":2.65,"y":1.85},
{"k":"y","s":1,"x":-0.19,"y":2.04},{"k":"y","s":1,"x":0.02,"y":2.0},{"k":"y","s":1,"x":0.29,"y":1.98},
{"k":"y","s":2,"x":-0.27,"y":1.87},{"k":"y","s":2,"x":-0.21,"y":1.765},
{"k":"y","s":3,"x":0.46,"y":1.93},{"k":"y","s":3,"x":0.51,"y":1.83},{"k":"y","s":3,"x":0.355,"y":1.66},{"k":"y","s":3,"x":0.27,"y":1.52},{"k":"y","s":3,"x":0.31,"y":1.425},{"k":"y","s":3,"x":0.46,"y":1.365},
{"k":"y","s":4,"x":-0.03,"y":1.63},{"k":"y","s":4,"x":0.085,"y":1.52},{"k":"y","s":4,"x":0.105,"y":1.465},
{"k":"y","s":5,"x":-0.06,"y":1.35},{"k":"y","s":5,"x":-0.23,"y":1.27},{"k":"y","s":5,"x":-0.44,"y":1.19},{"k":"y","s":5,"x":-0.54,"y":1.095},
{"k":"y","s":6,"x":-0.68,"y":0.96},{"k":"y","s":6,"x":-0.79,"y":0.785},{"k":"y","s":6,"x":-0.825,"y":0.59},{"k":"y","s":6,"x":-0.75,"y":0.455},{"k":"y","s":6,"x":-0.625,"y":0.445},{"k":"y","s":6,"x":-0.54,"y":0.495},{"k":"y","s":6,"x":-0.375,"y":0.705},
{"k":"y","s":7,"x":-0.165,"y":0.785},{"k":"y","s":7,"x":0.02,"y":0.705},{"k":"y","s":7,"x":0.085,"y":0.59},
{"k":"y","s":8,"x":0.645,"y":1.27},{"k":"y","s":8,"x":0.81,"y":1.17},{"k":"y","s":8,"x":1.055,"y":1.19},
{"k":"y","s":9,"x":0.77,"y":1.115},{"k":"y","s":9,"x":0.665,"y":1.035},{"k":"y","s":9,"x":0.645,"y":0.86},{"k":"y","s":9,"x":0.645,"y":0.63},{"k":"y","s":9,"x":0.645,"y":0.415},{"k":"y","s":9,"x":0.73,"y":0.35},{"k":"y","s":9,"x":0.895,"y":0.395},{"k":"y","s":9,"x":1.085,"y":0.455},
{"k":"y","s":10,"x":0.94,"y":1.0},{"k":"y","s":10,"x":1.085,"y":0.845},{"k":"y","s":10,"x":1.21,"y":0.65},{"k":"y","s":10,"x":1.21,"y":0.55},
{"k":"y","s":11,"x":1.23,"y":1.115},{"k":"y","s":11,"x":1.33,"y":1.035},
{"k":"y","s":12,"x":1.375,"y":0.86},{"k":"y","s":12,"x":1.46,"y":0.765},
{"k":"y","s":13,"x":1.645,"y":0.725},{"k":"y","s":13,"x":1.81,"y":0.745},{"k":"y","s":13,"x":1.96,"y":0.715},
{"k":"y","s":14,"x":1.96,"y":0.55},{"k":"y","s":14,"x":1.81,"y":0.355},{"k":"y","s":14,"x":1.71,"y":0.3},
{"k":"y","s":15,"x":1.585,"y":0.18},{"k":"y","s":15,"x":1.575,"y":0.085},
{"k":"y","s":16,"x":0.23,"y":0.415},{"k":"y","s":16,"x":0.29,"y":0.28},{"k":"y","s":16,"x":0.52,"y":0.125},{"k":"y","s":16,"x":0.69,"y":-0.03},{"k":"y","s":16,"x":0.79,"y":-0.15},
{"k":"y","s":17,"x":0.915,"y":-0.285},{"k":"y","s":17,"x":1.02,"y":-0.38},{"k":"y","s":17,"x":1.125,"y":-0.575},{"k":"y","s":17,"x":1.145,"y":-0.71},
{"k":"y","s":18,"x":1.5,"y":-0.13},{"k":"y","s":18,"x":1.415,"y":-0.34},{"k":"y","s":18,"x":1.335,"y":-0.65},{"k":"y","s":18,"x":1.335,"y":-0.79},{"k":"y","s":18,"x":1.25,"y":-0.865},
{"k":"y","s":19,"x":1.855,"y":-0.165},{"k":"y","s":19,"x":1.855,"y":-0.3},{"k":"y","s":19,"x":1.895,"y":-0.46},{"k":"y","s":19,"x":2.0,"y":-0.565},
{"k":"y","s":20,"x":2.06,"y":-0.225},{"k":"y","s":20,"x":2.165,"y":-0.34},{"k":"y","s":20,"x":2.2,"y":-0.495},
{"k":"y","s":21,"x":0.94,"y":1.87},{"k":"y","s":21,"x":0.97,"y":1.815},{"k":"y","s":21,"x":1.055,"y":1.815},
{"k":"y","s":22,"x":1.8,"y":1.815},{"k":"y","s":22,"x":1.905,"y":1.765},{"k":"y","s":22,"x":1.98,"y":1.64},
{"k":"y","s":23,"x":1.64,"y":1.7},{"k":"y","s":23,"x":1.7,"y":1.58},{"k":"y","s":23,"x":1.81,"y":1.505},{"k":"y","s":23,"x":1.915,"y":1.49},
{"k":"b","s":1,"x":-1.415,"y":1.0},{"k":"b","s":1,"x":-1.46,"y":0.94},{"k":"b","s":1,"x":-1.445,"y":0.87},{"k":"b","s":1,"x":-1.395,"y":0.845},{"k":"b","s":1,"x":-1.34,"y":0.9},
{"k":"b","s":2,"x":-1.645,"y":0.495},{"k":"b","s":2,"x":-1.59,"y":0.435},{"k":"b","s":2,"x":-1.605,"y":0.355},{"k":"b","s":2,"x":-1.71,"y":0.28},{"k":"b","s":2,"x":-1.81,"y":0.29},{"k":"b","s":2,"x":-1.845,"y":0.365},
{"k":"b","s":3,"x":-2.145,"y":0.03},{"k":"b","s":3,"x":-2.25,"y":-0.05},{"k":"b","s":3,"x":-2.29,"y":-0.13},
{"k":"b","s":4,"x":-1.99,"y":-0.03},{"k":"b","s":4,"x":-2.03,"y":-0.15},{"k":"b","s":4,"x":-2.125,"y":-0.225},{"k":"b","s":4,"x":-2.21,"y":-0.225},
{"k":"b","s":5,"x":-1.27,"y":0.13},{"k":"b","s":5,"x":-1.105,"y":0.125},{"k":"b","s":5,"x":-0.855,"y":0.115},{"k":"b","s":5,"x":-0.665,"y":0.165},
{"k":"b","s":6,"x":-1.34,"y":0.125},{"k":"b","s":6,"x":-1.32,"y":-0.03},{"k":"b","s":6,"x":-1.29,"y":-0.225},{"k":"b","s":6,"x":-1.34,"y":-0.285},
{"k":"b","s":7,"x":-1.645,"y":-0.555},{"k":"b","s":7,"x":-1.56,"y":-0.44},{"k":"b","s":7,"x":-1.44,"y":-0.4},
{"k":"b","s":8,"x":-1.145,"y":-0.5},{"k":"b","s":8,"x":-1.125,"y":-0.36},{"k":"b","s":8,"x":-1.02,"y":-0.335},{"k":"b","s":8,"x":-0.935,"y":-0.36},
{"k":"b","s":9,"x":-0.75,"y":-0.42},{"k":"b","s":9,"x":-0.71,"y":-0.575},{"k":"b","s":9,"x":-0.75,"y":-0.81},{"k":"b","s":9,"x":-0.81,"y":-0.905},
{"k":"b","s":10,"x":-1.085,"y":-0.69},{"k":"b","s":10,"x":-0.98,"y":-0.83},{"k":"b","s":10,"x":-0.94,"y":-0.905},
{"k":"b","s":11,"x":-1.625,"y":-0.83},{"k":"b","s":11,"x":-1.595,"y":-0.965},{"k":"b","s":11,"x":-1.575,"y":-1.08},
{"k":"b","s":12,"x":-1.44,"y":-1.13},{"k":"b","s":12,"x":-1.27,"y":-1.04},{"k":"b","s":12,"x":-1.145,"y":-1.0},{"k":"b","s":12,"x":-0.98,"y":-1.02},
{"k":"b","s":13,"x":-0.81,"y":-0.945},{"k":"b","s":13,"x":-0.645,"y":-1.02},{"k":"b","s":13,"x":-0.54,"y":-1.14},{"k":"b","s":13,"x":-0.48,"y":-1.35},{"k":"b","s":13,"x":-0.48,"y":-1.45},
{"k":"b","s":14,"x":-0.52,"y":0.28},{"k":"b","s":14,"x":-0.375,"y":0.36},{"k":"b","s":14,"x":-0.31,"y":0.435},
{"k":"b","s":15,"x":-0.125,"y":0.455},{"k":"b","s":15,"x":-0.02,"y":0.34},{"k":"b","s":15,"x":0.02,"y":0.2},{"k":"b","s":15,"x":0,"y":-0.07},
{"k":"b","s":16,"x":-0.05,"y":-0.3},{"k":"b","s":16,"x":-0.04,"y":-0.535},
{"k":"b","s":17,"x":-0.07,"y":-0.73},{"k":"b","s":17,"x":-0.08,"y":-0.925},
{"k":"b","s":18,"x":-0.02,"y":-1.1},{"k":"b","s":18,"x":0.125,"y":-1.11},{"k":"b","s":18,"x":0.21,"y":-1.06},
{"k":"b","s":19,"x":0.405,"y":-0.77},{"k":"b","s":19,"x":0.375,"y":-0.885},{"k":"b","s":19,"x":0.355,"y":-0.98},
{"k":"b","s":20,"x":0.415,"y":-0.5},{"k":"b","s":20,"x":0.46,"y":-0.38},{"k":"b","s":20,"x":0.56,"y":-0.3},{"k":"b","s":20,"x":0.69,"y":-0.285},{"k":"b","s":20,"x":0.79,"y":-0.34},{"k":"b","s":20,"x":0.855,"y":-0.535},{"k":"b","s":20,"x":0.81,"y":-0.69},{"k":"b","s":20,"x":0.71,"y":-0.925},{"k":"b","s":20,"x":0.605,"y":-1.2},{"k":"b","s":20,"x":0.52,"y":-1.35},{"k":"b","s":20,"x":0.355,"y":-1.49},{"k":"b","s":20,"x":0.19,"y":-1.57},{"k":"b","s":20,"x":0.095,"y":-1.645},{"k":"b","s":20,"x":0.105,"y":-1.855},
{"k":"b","s":21,"x":-0.49,"y":-1.605},{"k":"b","s":21,"x":-0.48,"y":-1.815},{"k":"b","s":21,"x":-0.44,"y":-1.895},
{"k":"b","s":22,"x":-0.29,"y":-1.99},{"k":"b","s":22,"x":-0.145,"y":-2.06},{"k":"b","s":22,"x":0,"y":-2.03},
{"k":"b","s":23,"x":-1.19,"y":-1.76},{"k":"b","s":23,"x":-1.095,"y":-1.855},{"k":"b","s":23,"x":-1.075,"y":-1.955},{"k":"b","s":23,"x":-1.11,"y":-1.99},
{"k":"b","s":24,"x":-1.355,"y":-1.835},{"k":"b","s":24,"x":-1.36,"y":-1.935},{"k":"b","s":24,"x":-1.325,"y":-2.01},
{"k":"b","s":25,"x":-2.01,"y":-1.47},{"k":"b","s":25,"x":-1.96,"y":-1.505},{"k":"b","s":25,"x":-1.99,"y":-1.565}
],
"c6":[
{"k":"t","s":1,"x":-0.87,"y":2.47},{"k":"t","s":1,"x":-0.97,"y":2.32},{"k":"t","s":1,"x":-1.035,"y":2.165},{"k":"t","s":1,"x":-1.05,"y":1.99},{"k":"t","s":1,"x":-0.995,"y":1.755},{"k":"t","s":1,"x":-0.92,"y":1.52},{"k":"t","s":1,"x":-0.91,"y":1.29},{"k":"t","s":1,"x":-0.95,"y":1.055},{"k":"t","s":1,"x":-1.035,"y":0.825},{"k":"t","s":1,"x":-1.11,"y":0.59},{"k":"t","s":1,"x":-1.055,"y":0.435},{"k":"t","s":1,"x":-0.91,"y":0.3},{"k":"t","s":1,"x":-0.765,"y":0.25},{"k":"t","s":1,"x":-0.62,"y":0.26},{"k":"t","s":1,"x":-0.45,"y":0.355},{"k":"t","s":1,"x":-0.345,"y":0.55},{"k":"t","s":1,"x":-0.18,"y":0.62},{"k":"t","s":1,"x":-0.01,"y":0.57},{"k":"t","s":1,"x":0.135,"y":0.395},{"k":"t","s":1,"x":0.165,"y":0.2},{"k":"t","s":1,"x":0.09,"y":-0.03},{"k":"t","s":1,"x":0.03,"y":-0.265},{"k":"t","s":1,"x":0.05,"y":-0.42},{"k":"t","s":1,"x":0.125,"y":-0.575},{"k":"t","s":1,"x":0.215,"y":-0.555},{"k":"t","s":1,"x":0.34,"y":-0.4},{"k":"t","s":1,"x":0.47,"y":-0.265},{"k":"t","s":1,"x":0.615,"y":-0.195},{"k":"t","s":1,"x":0.76,"y":-0.245},{"k":"t","s":1,"x":0.905,"y":-0.4},{"k":"t","s":1,"x":0.98,"y":-0.575},{"k":"t","s":1,"x":0.96,"y":-0.77},{"k":"t","s":1,"x":0.9,"y":-1.06},{"k":"t","s":1,"x":0.95,"y":-1.31},{"k":"t","s":1,"x":1.05,"y":-1.505},{"k":"t","s":1,"x":1.26,"y":-1.575},{"k":"t","s":1,"x":1.47,"y":-1.525},{"k":"t","s":1,"x":1.68,"y":-1.43},{"k":"t","s":1,"x":1.845,"y":-1.35},{"k":"t","s":1,"x":2.095,"y":-1.35},{"k":"t","s":1,"x":2.345,"y":-1.31},{"k":"t","s":1,"x":2.515,"y":-1.255},{"k":"t","s":1,"x":2.65,"y":-1.17},
{"k":"t","s":2,"x":2.055,"y":2.47},{"k":"t","s":2,"x":2.265,"y":2.34},{"k":"t","s":2,"x":2.47,"y":2.165},{"k":"t","s":2,"x":2.65,"y":1.93},
{"k":"y","s":1,"x":-0.18,"y":2.04},{"k":"y","s":1,"x":0.03,"y":2.0},{"k":"y","s":1,"x":0.3,"y":1.98},
{"k":"y","s":2,"x":-0.275,"y":1.87},{"k":"y","s":2,"x":-0.21,"y":1.765},
{"k":"y","s":3,"x":0.45,"y":1.93},{"k":"y","s":3,"x":0.5,"y":1.83},{"k":"y","s":3,"x":0.385,"y":1.68},{"k":"y","s":3,"x":0.135,"y":1.56},{"k":"y","s":3,"x":-0.03,"y":1.64},
{"k":"y","s":4,"x":0.11,"y":1.45},{"k":"y","s":4,"x":0.28,"y":1.425},{"k":"y","s":4,"x":0.47,"y":1.365},
{"k":"y","s":5,"x":-0.065,"y":1.34},{"k":"y","s":5,"x":-0.24,"y":1.23},{"k":"y","s":5,"x":-0.45,"y":1.155},{"k":"y","s":5,"x":-0.535,"y":1.095},
{"k":"y","s":6,"x":-0.68,"y":1.0},{"k":"y","s":6,"x":-0.87,"y":0.825},{"k":"y","s":6,"x":-0.95,"y":0.59},{"k":"y","s":6,"x":-0.89,"y":0.435},{"k":"y","s":6,"x":-0.745,"y":0.36},{"k":"y","s":6,"x":-0.6,"y":0.34},
{"k":"y","s":7,"x":-0.47,"y":0.435},{"k":"y","s":7,"x":-0.39,"y":0.63},{"k":"y","s":7,"x":-0.285,"y":0.705},
{"k":"y","s":8,"x":-0.165,"y":0.785},{"k":"y","s":8,"x":0.01,"y":0.705},{"k":"y","s":8,"x":0.09,"y":0.59},
{"k":"y","s":9,"x":0.655,"y":1.27},{"k":"y","s":9,"x":0.845,"y":1.2},{"k":"y","s":9,"x":1.05,"y":1.2},
{"k":"y","s":10,"x":0.76,"y":1.095},{"k":"y","s":10,"x":0.675,"y":1.055},{"k":"y","s":10,"x":0.635,"y":0.86},{"k":"y","s":10,"x":0.635,"y":0.63},{"k":"y","s":10,"x":0.655,"y":0.415},{"k":"y","s":10,"x":0.74,"y":0.355},{"k":"y","s":10,"x":0.925,"y":0.395},{"k":"y","s":10,"x":1.07,"y":0.455},
{"k":"y","s":11,"x":0.925,"y":1.0},{"k":"y","s":11,"x":1.095,"y":0.825},{"k":"y","s":11,"x":1.22,"y":0.65},{"k":"y","s":11,"x":1.22,"y":0.55},
{"k":"y","s":12,"x":1.22,"y":1.115},{"k":"y","s":12,"x":1.325,"y":1.035},
{"k":"y","s":13,"x":1.385,"y":0.86},{"k":"y","s":13,"x":1.46,"y":0.765},
{"k":"y","s":14,"x":1.635,"y":0.725},{"k":"y","s":14,"x":1.805,"y":0.745},{"k":"y","s":14,"x":1.95,"y":0.715},
{"k":"y","s":15,"x":1.95,"y":0.55},{"k":"y","s":15,"x":1.805,"y":0.355},{"k":"y","s":15,"x":1.7,"y":0.3},
{"k":"y","s":16,"x":1.575,"y":0.18},{"k":"y","s":16,"x":1.565,"y":0.085},
{"k":"y","s":17,"x":0.335,"y":0.24},{"k":"y","s":17,"x":0.24,"y":0.045},{"k":"y","s":17,"x":0.155,"y":-0.15},{"k":"y","s":17,"x":0.14,"y":-0.245},
{"k":"y","s":18,"x":0.32,"y":-0.3},{"k":"y","s":18,"x":0.405,"y":-0.13},{"k":"y","s":18,"x":0.59,"y":-0.01},{"k":"y","s":18,"x":0.76,"y":-0.11},
{"k":"y","s":19,"x":0.925,"y":-0.285},{"k":"y","s":19,"x":1.05,"y":-0.42},{"k":"y","s":19,"x":1.135,"y":-0.575},{"k":"y","s":19,"x":1.165,"y":-0.71},
{"k":"y","s":20,"x":1.51,"y":-0.15},{"k":"y","s":20,"x":1.43,"y":-0.3},{"k":"y","s":20,"x":1.345,"y":-0.615},{"k":"y","s":20,"x":1.365,"y":-0.79},{"k":"y","s":20,"x":1.24,"y":-0.875},
{"k":"y","s":21,"x":1.855,"y":-0.185},{"k":"y","s":21,"x":1.855,"y":-0.3},{"k":"y","s":21,"x":1.91,"y":-0.46},{"k":"y","s":21,"x":2.01,"y":-0.555},
{"k":"y","s":22,"x":2.055,"y":-0.225},{"k":"y","s":22,"x":2.16,"y":-0.34},{"k":"y","s":22,"x":2.2,"y":-0.495},
{"k":"y","s":23,"x":0.94,"y":1.87},{"k":"y","s":23,"x":0.975,"y":1.815},{"k":"y","s":23,"x":1.05,"y":1.815},
{"k":"y","s":24,"x":1.805,"y":1.815},{"k":"y","s":24,"x":1.91,"y":1.765},{"k":"y","s":24,"x":1.98,"y":1.64},
{"k":"y","s":25,"x":1.64,"y":1.7},{"k":"y","s":25,"x":1.7,"y":1.58},{"k":"y","s":25,"x":1.81,"y":1.505},{"k":"y","s":25,"x":1.93,"y":1.49},
{"k":"b","s":1,"x":-1.43,"y":0.985},{"k":"b","s":1,"x":-1.465,"y":0.93},{"k":"b","s":1,"x":-1.45,"y":0.87},{"k":"b","s":1,"x":-1.4,"y":0.855},{"k":"b","s":1,"x":-1.35,"y":0.91},
{"k":"b","s":2,"x":-1.68,"y":0.5},{"k":"b","s":2,"x":-1.62,"y":0.435},{"k":"b","s":2,"x":-1.64,"y":0.35},{"k":"b","s":2,"x":-1.725,"y":0.285},{"k":"b","s":2,"x":-1.815,"y":0.3},{"k":"b","s":2,"x":-1.84,"y":0.375},
{"k":"b","s":3,"x":-2.155,"y":0.03},{"k":"b","s":3,"x":-2.255,"y":-0.05},{"k":"b","s":3,"x":-2.3,"y":-0.13},
{"k":"b","s":4,"x":-2.0,"y":-0.03},{"k":"b","s":4,"x":-2.04,"y":-0.15},{"k":"b","s":4,"x":-2.12,"y":-0.225},{"k":"b","s":4,"x":-2.21,"y":-0.225},
{"k":"b","s":5,"x":-1.12,"y":0.155},{"k":"b","s":5,"x":-0.91,"y":0.155},{"k":"b","s":5,"x":-0.68,"y":0.18},
{"k":"b","s":6,"x":-1.295,"y":0.105},{"k":"b","s":6,"x":-1.32,"y":-0.03},{"k":"b","s":6,"x":-1.28,"y":-0.225},{"k":"b","s":6,"x":-1.28,"y":-0.285},
{"k":"b","s":7,"x":-1.64,"y":-0.535},{"k":"b","s":7,"x":-1.555,"y":-0.44},{"k":"b","s":7,"x":-1.43,"y":-0.4},
{"k":"b","s":8,"x":-1.16,"y":-0.5},{"k":"b","s":8,"x":-1.14,"y":-0.37},{"k":"b","s":8,"x":-0.995,"y":-0.355},{"k":"b","s":8,"x":-0.825,"y":-0.4},{"k":"b","s":8,"x":-0.72,"y":-0.495},{"k":"b","s":8,"x":-0.68,"y":-0.65},{"k":"b","s":8,"x":-0.765,"y":-0.925},{"k":"b","s":8,"x":-0.66,"y":-1.12},{"k":"b","s":8,"x":-0.555,"y":-1.235},{"k":"b","s":8,"x":-0.49,"y":-1.43},
{"k":"b","s":9,"x":-1.075,"y":-0.71},{"k":"b","s":9,"x":-0.97,"y":-0.83},{"k":"b","s":9,"x":-0.89,"y":-0.905},
{"k":"b","s":10,"x":-1.62,"y":-0.83},{"k":"b","s":10,"x":-1.6,"y":-0.965},{"k":"b","s":10,"x":-1.58,"y":-1.08},
{"k":"b","s":11,"x":-1.43,"y":-1.14},{"k":"b","s":11,"x":-1.265,"y":-1.06},{"k":"b","s":11,"x":-1.12,"y":-1.035},{"k":"b","s":11,"x":-0.97,"y":-1.02},
{"k":"b","s":12,"x":-0.515,"y":0.28},{"k":"b","s":12,"x":-0.37,"y":0.36},{"k":"b","s":12,"x":-0.285,"y":0.415},{"k":"b","s":12,"x":-0.16,"y":0.495},{"k":"b","s":12,"x":-0.035,"y":0.435},{"k":"b","s":12,"x":0.04,"y":0.28},{"k":"b","s":12,"x":0.03,"y":0.085},{"k":"b","s":12,"x":-0.01,"y":-0.07},
{"k":"b","s":13,"x":-0.055,"y":-0.3},{"k":"b","s":13,"x":-0.045,"y":-0.535},
{"k":"b","s":14,"x":-0.075,"y":-0.73},{"k":"b","s":14,"x":-0.115,"y":-0.925},
{"k":"b","s":15,"x":0.01,"y":-1.1},{"k":"b","s":15,"x":0.115,"y":-1.11},{"k":"b","s":15,"x":0.195,"y":-1.06},
{"k":"b","s":16,"x":0.405,"y":-0.73},{"k":"b","s":16,"x":0.395,"y":-0.885},{"k":"b","s":16,"x":0.34,"y":-0.98},
{"k":"b","s":17,"x":0.385,"y":-0.5},{"k":"b","s":17,"x":0.445,"y":-0.38},{"k":"b","s":17,"x":0.55,"y":-0.3},{"k":"b","s":17,"x":0.72,"y":-0.29},{"k":"b","s":17,"x":0.82,"y":-0.38},{"k":"b","s":17,"x":0.855,"y":-0.535},{"k":"b","s":17,"x":0.8,"y":-0.69},{"k":"b","s":17,"x":0.7,"y":-0.965},{"k":"b","s":17,"x":0.595,"y":-1.235},{"k":"b","s":17,"x":0.51,"y":-1.35},{"k":"b","s":17,"x":0.34,"y":-1.49},{"k":"b","s":17,"x":0.175,"y":-1.625},{"k":"b","s":17,"x":0.11,"y":-1.76},{"k":"b","s":17,"x":0.11,"y":-1.855},
{"k":"b","s":18,"x":-0.49,"y":-1.605},{"k":"b","s":18,"x":-0.485,"y":-1.815},{"k":"b","s":18,"x":-0.445,"y":-1.895},
{"k":"b","s":19,"x":-0.29,"y":-1.99},{"k":"b","s":19,"x":-0.14,"y":-2.06},{"k":"b","s":19,"x":-0.015,"y":-2.03},
{"k":"b","s":20,"x":-1.18,"y":-1.76},{"k":"b","s":20,"x":-1.1,"y":-1.855},{"k":"b","s":20,"x":-1.075,"y":-1.955},{"k":"b","s":20,"x":-1.12,"y":-1.99},
{"k":"b","s":21,"x":-1.36,"y":-1.835},{"k":"b","s":21,"x":-1.37,"y":-1.935},{"k":"b","s":21,"x":-1.33,"y":-2.01},
{"k":"b","s":22,"x":-2.015,"y":-1.47},{"k":"b","s":22,"x":-1.955,"y":-1.5},{"k":"b","s":22,"x":-1.995,"y":-1.565}
]
},
"concat":[
{"title":"C1=0.05, C2=10, SV=50.0%, lambda=0.931, Acc=100.00%","width":822,"height":763,"encoding":{"x":{"field":"x","type":"quantitative","scale":{"domain":[-2.754,2.651]},"axis":null},"y":{"field":"y","type":"quantitative","scale":{"domain":[-2.548,2.474]},"axis":null}},"resolve":{"axis":{"x":"independent","y":"independent"}},"layer":[
{"data":{"name":"pts"},"mark":{"type":"point","opacity":0},"encoding":{"x":{"field":"x","type":"quantitative","scale":{"domain":[-2.754,2.651]},"axis":{"orient":"bottom","values":[-2,-1,0,1,2],"title":"x₁"}},"y":{"field":"y","type":"quantitative","scale":{"domain":[-2.548,2.474]},"axis":{"orient":"left","values":[-2.5,-2,-1.5,-1,-0.5,0,0.5,1,1.5,2],"title":"x₂"}}}},
{"data":{"name":"pts"},"mark":{"type":"point","opacity":0},"encoding":{"x":{"field":"x","type":"quantitative","scale":{"domain":[-2.754,2.651]},"axis":{"orient":"top","values":[-2,-1,0,1,2],"labels":false,"title":null}},"y":{"field":"y","type":"quantitative","scale":{"domain":[-2.548,2.474]},"axis":{"orient":"right","values":[-2.5,-2,-1.5,-1,-0.5,0,0.5,1,1.5,2],"labels":false,"title":null}}}},
{"data":{"name":"c1"},"transform":[{"filter":"datum.k==='t'"}],"mark":{"type":"line","clip":true,"interpolate":"catmull-rom","color":"#14BDB5","strokeWidth":6.5},"encoding":{"detail":{"field":"s"},"order":{"value":null}}},
{"data":{"name":"pts"},"transform":[{"filter":"datum.c==='m'"}],"mark":{"type":"point","shape":"square","filled":true,"size":289,"color":"#FF00FF","opacity":1}},
{"data":{"name":"pts"},"transform":[{"filter":"datum.c==='s'"}],"mark":{"type":"point","shape":"M0,-1L0.264,-0.364L0.951,-0.309L0.428,0.139L0.588,0.809L0,0.45L-0.588,0.809L-0.428,0.139L-0.951,-0.309L-0.264,-0.364Z","filled":true,"size":470,"color":"#0000FF","opacity":1}},
{"data":{"name":"pts"},"transform":[{"filter":"datum.ring[0]==='k'"}],"mark":{"type":"point","shape":"circle","filled":false,"size":505,"stroke":"#000000","strokeWidth":5.3,"opacity":1}},
{"data":{"name":"pts"},"transform":[{"filter":"datum.ring[0]==='r'"}],"mark":{"type":"point","shape":"circle","filled":false,"size":505,"stroke":"#D40000","strokeWidth":5.3,"opacity":1}}
]},
{"title":"C1=0.10, C2=10, SV=50.0%, lambda=0.795, Acc=97.00%","width":822,"height":763,"encoding":{"x":{"field":"x","type":"quantitative","scale":{"domain":[-2.754,2.651]},"axis":null},"y":{"field":"y","type":"quantitative","scale":{"domain":[-2.548,2.474]},"axis":null}},"resolve":{"axis":{"x":"independent","y":"independent"}},"layer":[
{"data":{"name":"pts"},"mark":{"type":"point","opacity":0},"encoding":{"x":{"field":"x","type":"quantitative","scale":{"domain":[-2.754,2.651]},"axis":{"orient":"bottom","values":[-2,-1,0,1,2],"title":"x₁"}},"y":{"field":"y","type":"quantitative","scale":{"domain":[-2.548,2.474]},"axis":{"orient":"left","values":[-2.5,-2,-1.5,-1,-0.5,0,0.5,1,1.5,2],"title":"x₂"}}}},
{"data":{"name":"pts"},"mark":{"type":"point","opacity":0},"encoding":{"x":{"field":"x","type":"quantitative","scale":{"domain":[-2.754,2.651]},"axis":{"orient":"top","values":[-2,-1,0,1,2],"labels":false,"title":null}},"y":{"field":"y","type":"quantitative","scale":{"domain":[-2.548,2.474]},"axis":{"orient":"right","values":[-2.5,-2,-1.5,-1,-0.5,0,0.5,1,1.5,2],"labels":false,"title":null}}}},
{"data":{"name":"c2"},"transform":[{"filter":"datum.k==='t'"}],"mark":{"type":"line","clip":true,"interpolate":"catmull-rom","color":"#14BDB5","strokeWidth":6.5},"encoding":{"detail":{"field":"s"},"order":{"value":null}}},
{"data":{"name":"pts"},"transform":[{"filter":"datum.c==='m'"}],"mark":{"type":"point","shape":"square","filled":true,"size":289,"color":"#FF00FF","opacity":1}},
{"data":{"name":"pts"},"transform":[{"filter":"datum.c==='s'"}],"mark":{"type":"point","shape":"M0,-1L0.264,-0.364L0.951,-0.309L0.428,0.139L0.588,0.809L0,0.45L-0.588,0.809L-0.428,0.139L-0.951,-0.309L-0.264,-0.364Z","filled":true,"size":470,"color":"#0000FF","opacity":1}},
{"data":{"name":"pts"},"transform":[{"filter":"datum.ring[1]==='k'"}],"mark":{"type":"point","shape":"circle","filled":false,"size":505,"stroke":"#000000","strokeWidth":5.3,"opacity":1}},
{"data":{"name":"pts"},"transform":[{"filter":"datum.ring[1]==='r'"}],"mark":{"type":"point","shape":"circle","filled":false,"size":505,"stroke":"#D40000","strokeWidth":5.3,"opacity":1}}
]},
{"title":"C1=0.50, C2=10,SV=38.0%,  lambda=0.961, Acc=100.00%","width":822,"height":763,"encoding":{"x":{"field":"x","type":"quantitative","scale":{"domain":[-2.754,2.651]},"axis":null},"y":{"field":"y","type":"quantitative","scale":{"domain":[-2.548,2.474]},"axis":null}},"resolve":{"axis":{"x":"independent","y":"independent"}},"layer":[
{"data":{"name":"pts"},"mark":{"type":"point","opacity":0},"encoding":{"x":{"field":"x","type":"quantitative","scale":{"domain":[-2.754,2.651]},"axis":{"orient":"bottom","values":[-2,-1,0,1,2],"title":"x₁"}},"y":{"field":"y","type":"quantitative","scale":{"domain":[-2.548,2.474]},"axis":{"orient":"left","values":[-2.5,-2,-1.5,-1,-0.5,0,0.5,1,1.5,2],"title":"x₂"}}}},
{"data":{"name":"pts"},"mark":{"type":"point","opacity":0},"encoding":{"x":{"field":"x","type":"quantitative","scale":{"domain":[-2.754,2.651]},"axis":{"orient":"top","values":[-2,-1,0,1,2],"labels":false,"title":null}},"y":{"field":"y","type":"quantitative","scale":{"domain":[-2.548,2.474]},"axis":{"orient":"right","values":[-2.5,-2,-1.5,-1,-0.5,0,0.5,1,1.5,2],"labels":false,"title":null}}}},
{"data":{"name":"c3"},"transform":[{"filter":"datum.k==='b'"}],"mark":{"type":"line","clip":true,"interpolate":"catmull-rom","color":"#3B2AA6","strokeWidth":3.5,"strokeDash":[3,3]},"encoding":{"detail":{"field":"s"},"order":{"value":null}}},
{"data":{"name":"c3"},"transform":[{"filter":"datum.k==='y'"}],"mark":{"type":"line","clip":true,"interpolate":"catmull-rom","color":"#FFFF00","strokeWidth":3.5,"strokeDash":[3,3]},"encoding":{"detail":{"field":"s"},"order":{"value":null}}},
{"data":{"name":"c3"},"transform":[{"filter":"datum.k==='t'"}],"mark":{"type":"line","clip":true,"interpolate":"catmull-rom","color":"#14BDB5","strokeWidth":6.5},"encoding":{"detail":{"field":"s"},"order":{"value":null}}},
{"data":{"name":"pts"},"transform":[{"filter":"datum.c==='m'"}],"mark":{"type":"point","shape":"square","filled":true,"size":289,"color":"#FF00FF","opacity":1}},
{"data":{"name":"pts"},"transform":[{"filter":"datum.c==='s'"}],"mark":{"type":"point","shape":"M0,-1L0.264,-0.364L0.951,-0.309L0.428,0.139L0.588,0.809L0,0.45L-0.588,0.809L-0.428,0.139L-0.951,-0.309L-0.264,-0.364Z","filled":true,"size":470,"color":"#0000FF","opacity":1}},
{"data":{"name":"pts"},"transform":[{"filter":"datum.ring[2]==='k'"}],"mark":{"type":"point","shape":"circle","filled":false,"size":505,"stroke":"#000000","strokeWidth":5.3,"opacity":1}},
{"data":{"name":"pts"},"transform":[{"filter":"datum.ring[2]==='r'"}],"mark":{"type":"point","shape":"circle","filled":false,"size":505,"stroke":"#D40000","strokeWidth":5.3,"opacity":1}}
]},
{"title":"C1=1.00, C2=10, SV=32.5%,  lambda=0.983, Acc=100.00%","width":822,"height":763,"encoding":{"x":{"field":"x","type":"quantitative","scale":{"domain":[-2.754,2.651]},"axis":null},"y":{"field":"y","type":"quantitative","scale":{"domain":[-2.548,2.474]},"axis":null}},"resolve":{"axis":{"x":"independent","y":"independent"}},"layer":[
{"data":{"name":"pts"},"mark":{"type":"point","opacity":0},"encoding":{"x":{"field":"x","type":"quantitative","scale":{"domain":[-2.754,2.651]},"axis":{"orient":"bottom","values":[-2,-1,0,1,2],"title":"x₁"}},"y":{"field":"y","type":"quantitative","scale":{"domain":[-2.548,2.474]},"axis":{"orient":"left","values":[-2.5,-2,-1.5,-1,-0.5,0,0.5,1,1.5,2],"title":"x₂"}}}},
{"data":{"name":"pts"},"mark":{"type":"point","opacity":0},"encoding":{"x":{"field":"x","type":"quantitative","scale":{"domain":[-2.754,2.651]},"axis":{"orient":"top","values":[-2,-1,0,1,2],"labels":false,"title":null}},"y":{"field":"y","type":"quantitative","scale":{"domain":[-2.548,2.474]},"axis":{"orient":"right","values":[-2.5,-2,-1.5,-1,-0.5,0,0.5,1,1.5,2],"labels":false,"title":null}}}},
{"data":{"name":"c4"},"transform":[{"filter":"datum.k==='b'"}],"mark":{"type":"line","clip":true,"interpolate":"catmull-rom","color":"#3B2AA6","strokeWidth":3.5,"strokeDash":[3,3]},"encoding":{"detail":{"field":"s"},"order":{"value":null}}},
{"data":{"name":"c4"},"transform":[{"filter":"datum.k==='y'"}],"mark":{"type":"line","clip":true,"interpolate":"catmull-rom","color":"#FFFF00","strokeWidth":3.5,"strokeDash":[3,3]},"encoding":{"detail":{"field":"s"},"order":{"value":null}}},
{"data":{"name":"c4"},"transform":[{"filter":"datum.k==='t'"}],"mark":{"type":"line","clip":true,"interpolate":"catmull-rom","color":"#14BDB5","strokeWidth":6.5},"encoding":{"detail":{"field":"s"},"order":{"value":null}}},
{"data":{"name":"pts"},"transform":[{"filter":"datum.c==='m'"}],"mark":{"type":"point","shape":"square","filled":true,"size":289,"color":"#FF00FF","opacity":1}},
{"data":{"name":"pts"},"transform":[{"filter":"datum.c==='s'"}],"mark":{"type":"point","shape":"M0,-1L0.264,-0.364L0.951,-0.309L0.428,0.139L0.588,0.809L0,0.45L-0.588,0.809L-0.428,0.139L-0.951,-0.309L-0.264,-0.364Z","filled":true,"size":470,"color":"#0000FF","opacity":1}},
{"data":{"name":"pts"},"transform":[{"filter":"datum.ring[3]==='k'"}],"mark":{"type":"point","shape":"circle","filled":false,"size":505,"stroke":"#000000","strokeWidth":5.3,"opacity":1}},
{"data":{"name":"pts"},"transform":[{"filter":"datum.ring[3]==='r'"}],"mark":{"type":"point","shape":"circle","filled":false,"size":505,"stroke":"#D40000","strokeWidth":5.3,"opacity":1}}
]},
{"title":"C1=5.00, C2=10, SV=28.0%,  lambda=0.985, Acc=100.00%","width":822,"height":763,"encoding":{"x":{"field":"x","type":"quantitative","scale":{"domain":[-2.754,2.651]},"axis":null},"y":{"field":"y","type":"quantitative","scale":{"domain":[-2.548,2.474]},"axis":null}},"resolve":{"axis":{"x":"independent","y":"independent"}},"layer":[
{"data":{"name":"pts"},"mark":{"type":"point","opacity":0},"encoding":{"x":{"field":"x","type":"quantitative","scale":{"domain":[-2.754,2.651]},"axis":{"orient":"bottom","values":[-2,-1,0,1,2],"title":"x₁"}},"y":{"field":"y","type":"quantitative","scale":{"domain":[-2.548,2.474]},"axis":{"orient":"left","values":[-2.5,-2,-1.5,-1,-0.5,0,0.5,1,1.5,2],"title":"x₂"}}}},
{"data":{"name":"pts"},"mark":{"type":"point","opacity":0},"encoding":{"x":{"field":"x","type":"quantitative","scale":{"domain":[-2.754,2.651]},"axis":{"orient":"top","values":[-2,-1,0,1,2],"labels":false,"title":null}},"y":{"field":"y","type":"quantitative","scale":{"domain":[-2.548,2.474]},"axis":{"orient":"right","values":[-2.5,-2,-1.5,-1,-0.5,0,0.5,1,1.5,2],"labels":false,"title":null}}}},
{"data":{"name":"c5"},"transform":[{"filter":"datum.k==='b'"}],"mark":{"type":"line","clip":true,"interpolate":"catmull-rom","color":"#3B2AA6","strokeWidth":3.5,"strokeDash":[3,3]},"encoding":{"detail":{"field":"s"},"order":{"value":null}}},
{"data":{"name":"c5"},"transform":[{"filter":"datum.k==='y'"}],"mark":{"type":"line","clip":true,"interpolate":"catmull-rom","color":"#FFFF00","strokeWidth":3.5,"strokeDash":[3,3]},"encoding":{"detail":{"field":"s"},"order":{"value":null}}},
{"data":{"name":"c5"},"transform":[{"filter":"datum.k==='t'"}],"mark":{"type":"line","clip":true,"interpolate":"catmull-rom","color":"#14BDB5","strokeWidth":6.5},"encoding":{"detail":{"field":"s"},"order":{"value":null}}},
{"data":{"name":"pts"},"transform":[{"filter":"datum.c==='m'"}],"mark":{"type":"point","shape":"square","filled":true,"size":289,"color":"#FF00FF","opacity":1}},
{"data":{"name":"pts"},"transform":[{"filter":"datum.c==='s'"}],"mark":{"type":"point","shape":"M0,-1L0.264,-0.364L0.951,-0.309L0.428,0.139L0.588,0.809L0,0.45L-0.588,0.809L-0.428,0.139L-0.951,-0.309L-0.264,-0.364Z","filled":true,"size":470,"color":"#0000FF","opacity":1}},
{"data":{"name":"pts"},"transform":[{"filter":"datum.ring[4]==='k'"}],"mark":{"type":"point","shape":"circle","filled":false,"size":505,"stroke":"#000000","strokeWidth":5.3,"opacity":1}},
{"data":{"name":"pts"},"transform":[{"filter":"datum.ring[4]==='r'"}],"mark":{"type":"point","shape":"circle","filled":false,"size":505,"stroke":"#D40000","strokeWidth":5.3,"opacity":1}}
]},
{"title":"C1=10.00, C2=10, SV=27.5%,  lambda=0.99, Acc=100.00%","width":822,"height":763,"encoding":{"x":{"field":"x","type":"quantitative","scale":{"domain":[-2.754,2.651]},"axis":null},"y":{"field":"y","type":"quantitative","scale":{"domain":[-2.548,2.474]},"axis":null}},"resolve":{"axis":{"x":"independent","y":"independent"}},"layer":[
{"data":{"name":"pts"},"mark":{"type":"point","opacity":0},"encoding":{"x":{"field":"x","type":"quantitative","scale":{"domain":[-2.754,2.651]},"axis":{"orient":"bottom","values":[-2,-1,0,1,2],"title":"x₁"}},"y":{"field":"y","type":"quantitative","scale":{"domain":[-2.548,2.474]},"axis":{"orient":"left","values":[-2.5,-2,-1.5,-1,-0.5,0,0.5,1,1.5,2],"title":"x₂"}}}},
{"data":{"name":"pts"},"mark":{"type":"point","opacity":0},"encoding":{"x":{"field":"x","type":"quantitative","scale":{"domain":[-2.754,2.651]},"axis":{"orient":"top","values":[-2,-1,0,1,2],"labels":false,"title":null}},"y":{"field":"y","type":"quantitative","scale":{"domain":[-2.548,2.474]},"axis":{"orient":"right","values":[-2.5,-2,-1.5,-1,-0.5,0,0.5,1,1.5,2],"labels":false,"title":null}}}},
{"data":{"name":"c6"},"transform":[{"filter":"datum.k==='b'"}],"mark":{"type":"line","clip":true,"interpolate":"catmull-rom","color":"#3B2AA6","strokeWidth":3.5,"strokeDash":[3,3]},"encoding":{"detail":{"field":"s"},"order":{"value":null}}},
{"data":{"name":"c6"},"transform":[{"filter":"datum.k==='y'"}],"mark":{"type":"line","clip":true,"interpolate":"catmull-rom","color":"#FFFF00","strokeWidth":3.5,"strokeDash":[3,3]},"encoding":{"detail":{"field":"s"},"order":{"value":null}}},
{"data":{"name":"c6"},"transform":[{"filter":"datum.k==='t'"}],"mark":{"type":"line","clip":true,"interpolate":"catmull-rom","color":"#14BDB5","strokeWidth":6.5},"encoding":{"detail":{"field":"s"},"order":{"value":null}}},
{"data":{"name":"pts"},"transform":[{"filter":"datum.c==='m'"}],"mark":{"type":"point","shape":"square","filled":true,"size":289,"color":"#FF00FF","opacity":1}},
{"data":{"name":"pts"},"transform":[{"filter":"datum.c==='s'"}],"mark":{"type":"point","shape":"M0,-1L0.264,-0.364L0.951,-0.309L0.428,0.139L0.588,0.809L0,0.45L-0.588,0.809L-0.428,0.139L-0.951,-0.309L-0.264,-0.364Z","filled":true,"size":470,"color":"#0000FF","opacity":1}},
{"data":{"name":"pts"},"transform":[{"filter":"datum.ring[5]==='k'"}],"mark":{"type":"point","shape":"circle","filled":false,"size":505,"stroke":"#000000","strokeWidth":5.3,"opacity":1}},
{"data":{"name":"pts"},"transform":[{"filter":"datum.ring[5]==='r'"}],"mark":{"type":"point","shape":"circle","filled":false,"size":505,"stroke":"#D40000","strokeWidth":5.3,"opacity":1}}
]}
]}
